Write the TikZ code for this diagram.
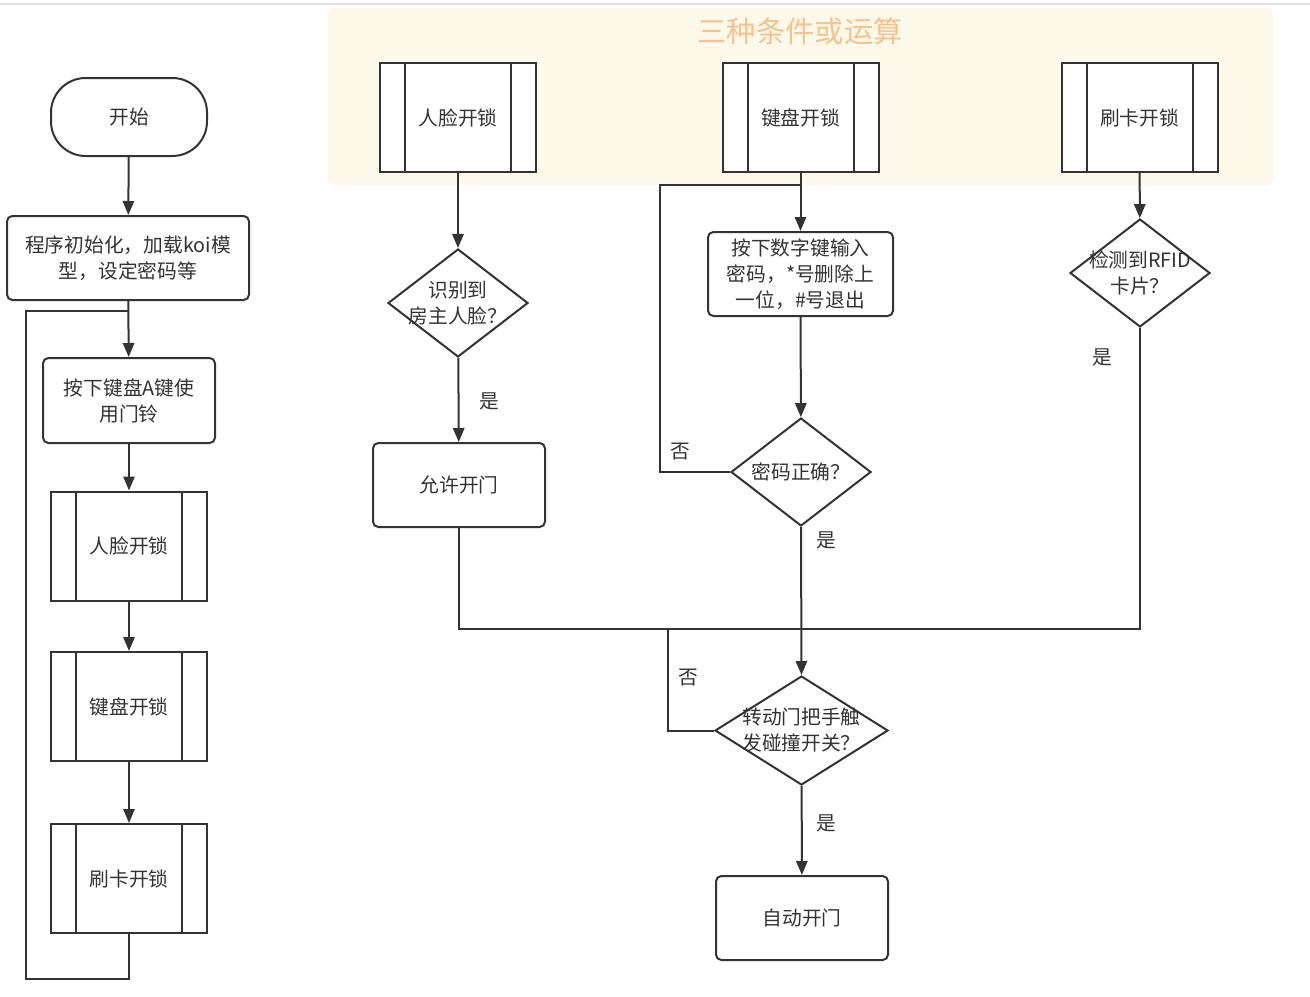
\documentclass[tikz,border=0pt]{standalone}
\usepackage{fontspec}
\setmainfont{Noto Sans CJK SC}
\usetikzlibrary{arrows.meta,shapes.geometric}
\definecolor{ink}{HTML}{333333}
\definecolor{band}{HTML}{FCF8EA}
\definecolor{tangerine}{HTML}{F6C28E}
\begin{document}
\begin{tikzpicture}[x=0.75pt,y=-0.75pt,
  font=\fontsize{14.8}{19.5}\selectfont, text=ink,
  line/.style={draw=ink,line width=1.5pt},
  arr/.style={line,-{Triangle[length=10.5pt,width=8.5pt]}},
  box/.style={draw=ink,line width=1.5pt,fill=white,rounded corners=4pt,align=center,
    minimum width=129pt,minimum height=63pt,inner sep=2pt},
  subproc/.style={draw=ink,line width=1.5pt,fill=white,minimum width=117pt,minimum height=81.75pt},
  decision/.style={diamond,draw=ink,line width=1.5pt,fill=white,inner sep=0pt,
    minimum width=105pt,minimum height=81pt},
  yes/.style={font=\fontsize{14.8}{16}\selectfont}]
  \useasboundingbox (0,0) rectangle (1310,996);
  \draw[black!12,line width=1pt] (0,4) -- (1310,4);
  \fill[band,rounded corners=5pt] (328,8) rectangle (1273,185);
  \node[text=tangerine,font=\fontsize{22}{25}\selectfont] (title) at (800,31) {三种条件或运算};

  \node[box,rounded corners=26pt,minimum width=117pt,minimum height=58.5pt] (start) at (129,117) {开始};
  \node[box,minimum width=181.5pt] (init) at (128,258) {程序初始化，加载koi模\\型，设定密码等};
  \node[box,minimum width=129pt,minimum height=63.75pt] (bell) at (129,400.5) {按下键盘A键使\\用门铃};
  \node[subproc] (lf) at (129,546) {人脸开锁};
  \node[subproc] (lk) at (129,706.5) {键盘开锁};
  \node[subproc] (lc) at (129,878.5) {刷卡开锁};

  \node[subproc] (tf) at (458,117.5) {人脸开锁};
  \node[subproc] (tk) at (800.5,117.5) {键盘开锁};
  \node[subproc] (tc) at (1139.5,117.5) {刷卡开锁};
  \foreach \n in {lf,lk,lc,tf,tk,tc} {
    \draw[ink,line width=1.5pt] ([xshift=19.5pt]\n.north west) -- ([xshift=19.5pt]\n.south west);
    \draw[ink,line width=1.5pt] ([xshift=-19.5pt]\n.north east) -- ([xshift=-19.5pt]\n.south east);
  }

  \node[decision,label={[align=center]center:识别到\\房主人脸？}] (dface) at (458,303) {};
  \node[box] (allow) at (459,485) {允许开门};
  \node[box,minimum width=138.75pt] (keypad) at (800.5,274) {按下数字键输入\\密码，*号删除上\\一位，\#号退出};
  \node[decision,label={[align=center]center:密码正确？}] (dpwd) at (801,472) {};
  \node[decision,label={[align=center]center:检测到RFID\\卡片？}] (dcard) at (1140,273) {};
  \node[decision,minimum width=129.75pt,minimum height=81.75pt,
    label={[align=center]center:转动门把手触\\发碰撞开关？}] (dhandle) at (801.5,730.5) {};
  \node[box] (auto) at (802,918) {自动开门};

  \coordinate (lj) at (128,311);
  \coordinate (lb) at (26,979);
  \coordinate (kj) at (800,185);
  \coordinate (mj) at (801,629);

  \draw[arr] (start) -- (init);
  \draw[arr] (init) -- (bell);
  \draw[arr] (bell) -- (lf);
  \draw[arr] (lf) -- (lk);
  \draw[arr] (lk) -- (lc);
  \draw[line] (lc.south) |- (lb) |- (lj);

  \draw[arr] (tf) -- (dface);
  \draw[arr] (dface) -- (allow);
  \draw[arr] (tk) -- (keypad);
  \draw[arr] (keypad) -- (dpwd);
  \draw[line] (dpwd.west) -- ++(-70,0) |- (kj);
  \draw[arr] (tc) -- (dcard);
  \draw[line] (allow.south) |- (mj);
  \draw[line] (dcard.south) |- (mj);
  \draw[line] (dhandle.west) -- ++(-46,0) |- (mj);
  \draw[arr] (dpwd.south) -- (dhandle.north);
  \draw[arr] (dhandle) -- (auto);

  \node[yes] (y1) at (489,401) {是};
  \node[yes] (n1) at (680,452) {否};
  \node[yes] (y2) at (826,540) {是};
  \node[yes] (y3) at (1102,357) {是};
  \node[yes] (n2) at (688,678) {否};
  \node[yes] (y4) at (826,823) {是};
\end{tikzpicture}
\end{document}
